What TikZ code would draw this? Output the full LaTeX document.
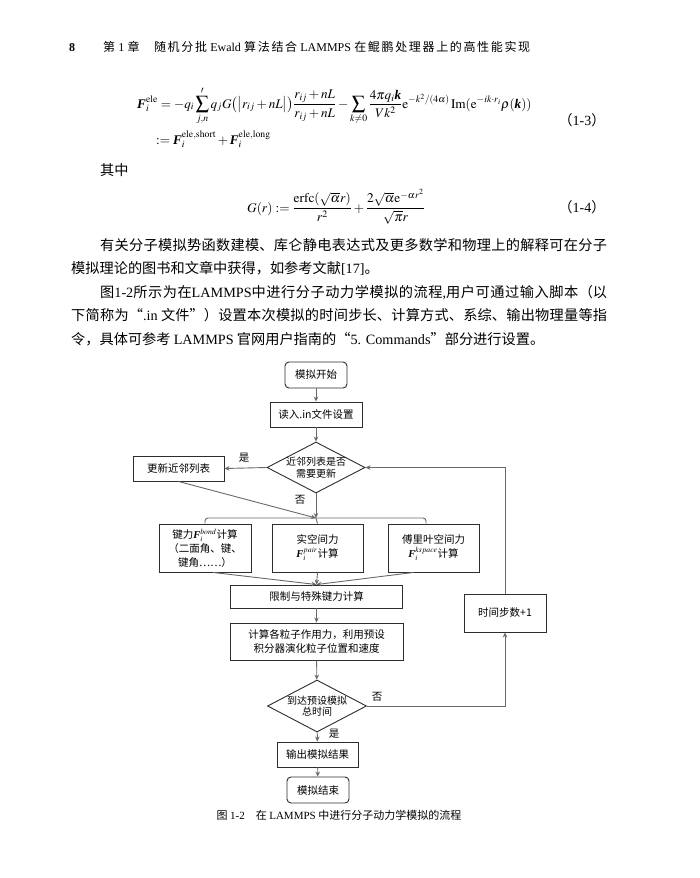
\documentclass[tikz,border=0pt]{standalone}
\usepackage{amsmath}
\usepackage{mathptmx}
\usepackage[no-math]{fontspec}
\setmainfont{Noto Sans CJK SC}
\newfontfamily\tnr{Liberation Serif}
\usetikzlibrary{shapes.geometric,arrows.meta,calc}
\XeTeXlinebreaklocale "zh"
\XeTeXlinebreakskip=0pt plus 4pt
\newcommand\lt[1]{{\tnr #1}}
\newcommand\bF{\text{\tnr\bfseries\itshape F}}
\newcommand\bk{\text{\tnr\bfseries\itshape k}}
\newcommand\fc{\fontsize{10.5}{14}\selectfont}
\newcommand\fcd{\fontsize{10}{11.5}\selectfont}
\newcommand\bodyf{\fontsize{14.2}{18}\selectfont}
\definecolor{lnc}{RGB}{105,105,105}
\definecolor{bdc}{RGB}{45,45,45}
\tikzset{
  txt/.style={inner sep=0pt, font=\bodyf},
  jline/.style={txt, align=justify, anchor=base west},
  nline/.style={txt, anchor=base west},
  fbox/.style={draw=bdc, line width=0.9pt, align=center, font=\fc, inner sep=0pt},
  rbox/.style={fbox, rounded corners=4pt},
  dia/.style={draw=bdc, line width=0.9pt, diamond, inner sep=0pt},
  lab/.style={font=\fc, inner sep=0pt},
  dlab/.style={font=\fcd, inner sep=0pt, align=center},
  arr/.style={draw=lnc, line width=0.9pt, -{Stealth[length=5pt,width=4.5pt]}},
  ln/.style={draw=lnc, line width=0.9pt}
}
\begin{document}
\begin{tikzpicture}[x=1pt,y=-1pt]
\fill[white] (0,0) rectangle (700,878);
\useasboundingbox (0,0) rectangle (700,878);
% header
\node[nline, font=\fontsize{12}{14}\selectfont] (pg) at (69,51.5) {\lt{\bfseries 8}};
\node[jline, font=\fontsize{12}{14}\selectfont, text width=427pt] (hd) at (103,51.5)
  {\noindent\parfillskip=0pt 第 \lt{1} 章\hspace{1.2em}随机分批 \lt{Ewald} 算法结合 \lt{LAMMPS} 在鲲鹏处理器上的高性能实现\par};
% equation 1-3
\node[nline, font=\fontsize{13.2}{16}\selectfont] (eq1) at (137,108)
  {$\displaystyle \bF_i^{\mathrm{ele}} = -q_i \sum_{j,n}^{\prime} q_j G\bigl(\bigl|r_{ij}+nL\bigr|\bigr)\frac{r_{ij}+nL}{r_{ij}+nL} - \sum_{k\neq 0}\frac{4\pi q_i \bk}{Vk^2}\mathrm{e}^{-k^2/(4\alpha)}\,\mathrm{Im}(\mathrm{e}^{-ik\cdot r_i}\rho(\bk))$};
\node[nline, font=\fontsize{13.2}{16}\selectfont] (eq1b) at (156,144)
  {$:= \bF_i^{\mathrm{ele,short}} + \bF_i^{\mathrm{ele,long}}$};
\node[txt, font=\fontsize{14}{17}\selectfont] (n13) at (582,120) {（\lt{1-3}）};
% qizhong
\node[nline] (qz) at (100,175.5) {其中};
% equation 1-4
\node[nline, font=\fontsize{13.3}{16}\selectfont] (eq2) at (247,212)
  {$\displaystyle G(r) := \frac{\mathrm{erfc}(\sqrt{\alpha}r)}{r^2} + \frac{2\sqrt{\alpha}\mathrm{e}^{-\alpha r^2}}{\sqrt{\pi}r}$};
\node[txt, font=\fontsize{14}{17}\selectfont] (n14) at (582,207) {（\lt{1-4}）};
% paragraphs
\node[jline, text width=507pt] (p1) at (100,250.5)
  {\noindent\parfillskip=0pt 有关分子模拟势函数建模、库仑静电表达式及更多数学和物理上的解释可在分子\par};
\node[nline] (p2) at (71,273.5) {模拟理论的图书和文章中获得，如参考文献\lt{[17]}。};
\node[jline, text width=507pt] (p3) at (100,297.5)
  {\noindent\parfillskip=0pt 图\lt{1-2}所示为在\lt{LAMMPS}中进行分子动力学模拟的流程\lt{,}用户可通过输入脚本（以\par};
\node[jline, text width=536pt] (p4) at (71,320.5)
  {\noindent\parfillskip=0pt 下简称为“\lt{.in} 文件”）设置本次模拟的时间步长、计算方式、系综、输出物理量等指\par};
\node[nline] (p5) at (71,344.5) {令，具体可参考 \lt{LAMMPS} 官网用户指南的“\lt{5. Commands}”部分进行设置。};
% flowchart
\node[rbox, minimum width=62pt, minimum height=26pt] (start) at (316,375) {模拟开始};
\node[fbox, minimum width=92pt, minimum height=25pt] (read) at (316,414.5) {读入.in文件设置};
\node[dia, minimum width=98pt, minimum height=51pt] (d1) at (316,467.5) {};
\node[dlab] (d1t) at (d1) {近邻列表是否\\需要更新};
\node[fbox, minimum width=91pt, minimum height=25pt] (upd) at (178.5,468.5) {更新近邻列表};
\node[fbox, minimum width=92pt, minimum height=48pt] (b1) at (205,548) {键力$\bF_i^{bond}$计算\\（二面角、键、\\键角……）};
\node[fbox, minimum width=91pt, minimum height=48pt] (b2) at (317.5,548) {实空间力\\$\bF_i^{pair}$计算};
\node[fbox, minimum width=91pt, minimum height=48pt] (b3) at (433.5,548) {傅里叶空间力\\$\bF_i^{kspace}$计算};
\node[fbox, minimum width=172pt, minimum height=23pt] (lim) at (316.5,596.5) {限制与特殊键力计算};
\node[fbox, minimum width=82pt, minimum height=38pt] (step) at (505,613) {时间步数+1};
\node[fbox, minimum width=173pt, minimum height=37pt] (comp) at (316.5,641.5) {计算各粒子作用力，利用预设\\积分器演化粒子位置和速度};
\node[dia, minimum width=99pt, minimum height=52pt] (d2) at (317,706) {};
\node[dlab] (d2t) at (d2) {到达预设模拟\\总时间};
\node[fbox, minimum width=81pt, minimum height=25pt] (out) at (317.5,754.5) {输出模拟结果};
\node[rbox, minimum width=62pt, minimum height=26pt] (end) at (318,790) {模拟结束};
% labels
\node[lab] (y1) at (244,458) {是};
\node[lab] (n1) at (300,500) {否};
\node[lab] (n2) at (377,697) {否};
\node[lab] (y2) at (334,734) {是};
% connectors
\coordinate (br) at (316,518);
\draw[arr] (start) -- (read);
\draw[arr] (read) -- (d1);
\draw[arr] (d1.west) -- (upd.east);
\draw[arr] (d1.south) -- (br);
\draw[arr] (upd.south) -- (br);
\draw[ln, rounded corners=3pt] (b1.north) |- (br) -| (b3.north -| 426,0);
\draw[ln] (br) -- (b2.north);
\draw[arr] ($(b1.south)+(8,0)$) -- (lim.north);
\draw[arr] (b2.south) -- (lim.north);
\draw[arr] ($(b3.south)+(-20,0)$) -- (lim.north);
\draw[arr] (lim) -- (comp);
\draw[arr] (comp) -- (d2);
\draw[arr] (d2) -- (out);
\draw[arr] (out) -- (end);
\draw[arr] (d2.east) -| (step.south);
\draw[arr] (step.north) |- (d1.east);
% caption
\node[txt, font=\fontsize{11}{13}\selectfont] (cap) at (339,815) {图 \lt{1-2}\hspace{1em}在 \lt{LAMMPS} 中进行分子动力学模拟的流程};
\end{tikzpicture}
\end{document}
